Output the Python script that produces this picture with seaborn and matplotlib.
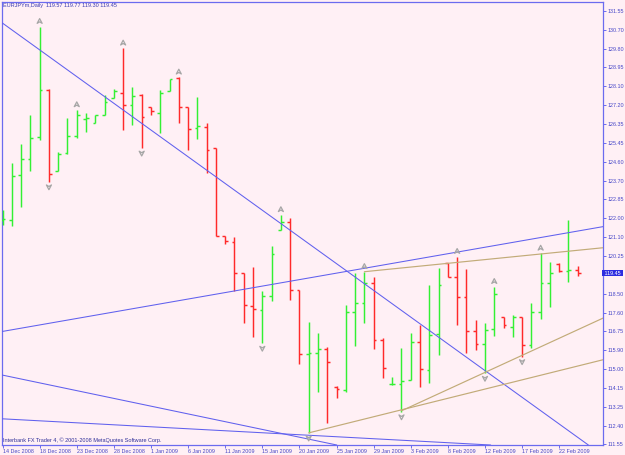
import matplotlib
matplotlib.use("Agg")
import matplotlib.pyplot as plt
import matplotlib.transforms as mtransforms
from matplotlib.path import Path
import numpy as np
import pandas as pd
import seaborn as sns

# ---------------- data ----------------
bar_index = list(range(63))
opens = [121.90, 121.90, 123.98, 124.71, 125.75, 127.91, 124.18, 125.00, 125.79, 126.58,
         126.40, 126.76, 127.54, 127.76, 127.22, 127.68, 127.14, 126.86, 127.88, 128.45,
         127.11, 126.16, 126.22, 125.22, 121.16, 120.90, 119.47, 117.93, 117.74, 118.39,
         121.44, 121.83, 118.67, 115.71, 115.74, 115.94, 114.20, 114.05, 117.67, 118.05,
         118.98, 116.36, 114.31, 114.32, 114.51, 116.28, 114.97, 116.62, 119.90, 119.28,
         118.33, 116.79, 116.17, 116.85, 117.41, 116.94, 117.41, 116.13, 117.66, 118.98,
         119.87, 119.54, 119.57]
highs = [122.37, 124.55, 125.42, 126.76, 130.84, 127.96, 125.05, 126.62, 126.99, 126.85,
         126.76, 127.68, 127.96, 129.84, 128.06, 127.71, 127.14, 127.91, 128.41, 128.50,
         127.11, 127.60, 126.37, 125.22, 121.16, 121.10, 119.47, 119.72, 118.64, 120.70,
         122.14, 121.98, 118.67, 117.20, 116.67, 116.02, 114.23, 117.98, 119.44, 119.51,
         119.26, 116.44, 114.66, 115.97, 116.69, 117.05, 118.90, 119.70, 119.93, 120.21,
         119.62, 117.28, 117.16, 118.82, 117.43, 117.51, 117.41, 118.05, 120.36, 119.98,
         119.90, 121.90, 119.77]
lows = [121.67, 121.63, 122.52, 124.18, 125.60, 123.67, 124.18, 124.95, 125.68, 125.99,
        126.40, 126.76, 127.53, 126.06, 126.29, 125.23, 126.76, 125.94, 127.88, 126.37,
        125.14, 125.63, 124.09, 121.16, 120.79, 118.64, 117.13, 116.51, 116.21, 118.17,
        121.44, 118.20, 115.25, 112.06, 113.97, 112.51, 113.66, 113.97, 116.08, 117.16,
        115.93, 114.59, 114.28, 113.04, 114.51, 114.20, 114.36, 115.66, 119.28, 117.05,
        115.74, 115.90, 114.82, 116.54, 116.90, 116.51, 115.59, 115.97, 117.31, 117.87,
        119.51, 119.05, 119.30]
closes = [121.95, 123.94, 124.71, 125.71, 127.91, 124.02, 124.95, 125.79, 126.76, 126.62,
          126.76, 127.37, 127.87, 127.22, 127.63, 126.68, 126.94, 127.76, 128.41, 127.11,
          126.10, 126.25, 125.14, 121.16, 120.95, 119.47, 117.98, 117.78, 118.39, 120.33,
          121.83, 118.67, 115.71, 115.76, 115.93, 115.35, 114.08, 117.67, 118.05, 119.01,
          116.36, 115.05, 114.34, 114.48, 116.28, 115.00, 116.59, 118.90, 119.28, 118.33,
          116.79, 116.17, 116.82, 118.48, 117.05, 117.41, 116.13, 117.66, 118.98, 119.44,
          119.56, 119.57, 119.45]

date_tick_bars = [0, 4, 8, 12, 16, 20, 24, 28, 32, 36, 40, 44, 48, 52, 56, 60]
date_tick_labels = ["14 Dec 2008", "18 Dec 2008", "23 Dec 2008", "28 Dec 2008",
                    "1 Jan 2009", "6 Jan 2009", "11 Jan 2009", "15 Jan 2009",
                    "20 Jan 2009", "25 Jan 2009", "29 Jan 2009", "3 Feb 2009",
                    "8 Feb 2009", "12 Feb 2009", "17 Feb 2009", "22 Feb 2009"]

price_ticks = [131.55, 130.70, 129.80, 128.95, 128.10, 127.20, 126.35, 125.45, 124.60,
               123.70, 122.85, 122.00, 121.10, 120.25, 118.50, 117.60, 116.75, 115.90,
               115.00, 114.15, 113.25, 112.40, 111.55]
price_tick_labels = ["131.55", "130.70", "129.80", "128.95", "128.10", "127.20", "126.35",
                     "125.45", "124.60", "123.70", "122.85", "122.00", "121.10", "120.25",
                     "118.50", "117.60", "116.75", "115.90", "115.00", "114.15", "113.25",
                     "112.40", "111.55"]
last_price = 119.45
title_text = "EURJPYm,Daily  119.57 119.77 119.30 119.45"
footer_text = "Interbank FX Trader 4, \u00a9 2001-2008 MetaQuotes Software Corp."

fractal_up_bars = [4, 8, 13, 19, 30, 39, 49, 53, 58]
fractal_down_bars = [5, 15, 28, 33, 43, 52, 56]

blue_line_a = [(0, 131.00), (60, 112.47)]
blue_line_b = [(0, 116.75), (60, 121.24)]
blue_line_c = [(0, 114.73), (30, 112.04)]
blue_line_d = [(0, 112.71), (50, 111.56)]
tan_line_a = [(39, 119.51), (65, 120.63)]
tan_line_b = [(33, 112.06), (65, 115.47)]
tan_line_c = [(43, 113.08), (65, 117.42)]

# ---------------- style ----------------
BG = "#FFF0F5"
FRAME = "#6b6bef"
TEXT = "#4646c8"
GREEN = "#33f033"
RED = "#ff2a2a"
BLUE_LINE = "#6060ee"
TAN = "#c2ab78"
GRAY = "#a6a6a6"

sns.set_theme(style="white")
plt.rcParams["font.family"] = ["Liberation Sans", "DejaVu Sans"]

fig = plt.figure(figsize=(6.25, 4.55), dpi=100, facecolor=BG)
ax = fig.add_axes([1.7 / 625, 10 / 455, 601.3 / 625, 443.5 / 455])
ax.set_facecolor(BG)

df = pd.DataFrame({"bar": bar_index, "open": opens, "high": highs,
                   "low": lows, "close": closes})
df["up"] = df["close"] >= df["open"]
colors = np.where(df["up"], GREEN, RED)

tick_w = 0.3
ax.vlines(df["bar"], df["low"], df["high"], colors=colors, lw=1.05, zorder=3,
          capstyle="butt")
ax.hlines(df["open"], df["bar"] - tick_w, df["bar"], colors=colors, lw=1.05, zorder=3)
ax.hlines(df["close"], df["bar"], df["bar"] + tick_w, colors=colors, lw=1.05, zorder=3)

# trend lines
for (p1, p2) in [blue_line_a, blue_line_b, blue_line_c, blue_line_d]:
    ax.axline(p1, p2, color=BLUE_LINE, lw=0.75, zorder=4)
for (p1, p2) in [tan_line_a, tan_line_b, tan_line_c]:
    ax.plot([p1[0], p2[0]], [p1[1], p2[1]], color=TAN, lw=0.85, zorder=4)

# fractal arrows
up_path = Path([(0, 1), (1, -0.9), (0, -0.3), (-1, -0.9), (0, 1)],
               [Path.MOVETO, Path.LINETO, Path.LINETO, Path.LINETO, Path.CLOSEPOLY])
down_path = Path([(0, -1), (1, 0.9), (0, 0.3), (-1, 0.9), (0, -1)],
                 [Path.MOVETO, Path.LINETO, Path.LINETO, Path.LINETO, Path.CLOSEPOLY])
up_df = df.loc[fractal_up_bars]
dn_df = df.loc[fractal_down_bars]
off_up = ax.transData + mtransforms.ScaledTranslation(0, 5.5 / 100, fig.dpi_scale_trans)
off_dn = ax.transData + mtransforms.ScaledTranslation(0, -5.5 / 100, fig.dpi_scale_trans)
sns.scatterplot(data=up_df, x="bar", y="high", marker=up_path, s=13,
                facecolors="none", edgecolor=GRAY, linewidth=0.9, ax=ax,
                transform=off_up, zorder=5, legend=False)
sns.scatterplot(data=dn_df, x="bar", y="low", marker=down_path, s=13,
                facecolors="none", edgecolor=GRAY, linewidth=0.9, ax=ax,
                transform=off_dn, zorder=5, legend=False)

# axes
ax.set_xlim(-0.09, 64.72)
ax.set_ylim(111.50, 132.00)
ax.set_xlabel("")
ax.set_ylabel("")
for sp in ax.spines.values():
    sp.set_visible(True)
    sp.set_color(FRAME)
    sp.set_linewidth(0.9)

ax.yaxis.tick_right()
ax.set_yticks(price_ticks)
ax.set_yticklabels(price_tick_labels)
ax.set_xticks(date_tick_bars)
ax.set_xticklabels(date_tick_labels)
for lbl in ax.get_xticklabels():
    lbl.set_ha("left")
ax.tick_params(axis="y", which="both", direction="out", length=2, width=0.7,
               colors=FRAME, labelcolor=TEXT, labelsize=3.9, pad=1.2, right=True, left=False)
ax.tick_params(axis="x", which="both", direction="out", length=2, width=0.7,
               colors=FRAME, labelcolor=TEXT, labelsize=3.9, pad=0.8, bottom=True)
ax.grid(False)

# current price box
ax.text(1.0, last_price, " " + f"{last_price:.2f}" + " ",
        transform=mtransforms.blended_transform_factory(ax.transAxes, ax.transData),
        ha="left", va="center", fontsize=3.9, color="white",
        bbox=dict(facecolor="#2d2de0", edgecolor="none", pad=0.6), zorder=6, clip_on=False)

ax.text(0.0022, 0.991, title_text, transform=ax.transAxes, ha="left", va="center",
        fontsize=3.95, color="#3a3ab0", zorder=6)
ax.text(0.0022, 0.0115, footer_text, transform=ax.transAxes, ha="left", va="center",
        fontsize=3.95, color="#30309a", zorder=6)

fig.savefig("out.png", dpi=100, facecolor=BG)
